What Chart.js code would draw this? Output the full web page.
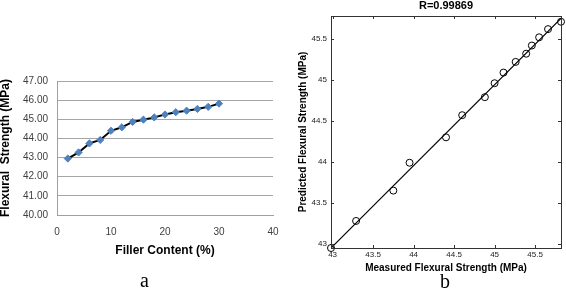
<!DOCTYPE html>
<html>
<head>
<meta charset="utf-8">
<script src="https://cdn.jsdelivr.net/npm/chart.js@4.4.1/dist/chart.umd.min.js"></script>
<style>
  body { margin: 0; background: #fff; }
  #wrap { position: relative; width: 566px; height: 291px; overflow: hidden; }
  canvas { position: absolute; top: 0; }
  #chartA { left: 0; }
  #chartB { left: 296px; }
  .cap { position: absolute; font-family: "Liberation Serif", "DejaVu Serif", serif; font-size: 20px; color: #000; line-height: 20px; }
</style>
</head>
<body>
<div id="wrap">
  <canvas id="chartA" width="290" height="291"></canvas>
  <canvas id="chartB" width="270" height="291"></canvas>
  <div class="cap" style="left:140px; top:270px;">a</div>
  <div class="cap" style="left:440px; top:271px;">b</div>
</div>
<script>
// datos del panel a: contenido de relleno vs resistencia
const fillerContent = [2, 4, 6, 8, 10, 12, 14, 16, 18, 20, 22, 24, 26, 28, 30];
const flexuralStrength = [42.95, 43.27, 43.74, 43.92, 44.40, 44.58, 44.86, 44.98, 45.10, 45.25, 45.37, 45.45, 45.54, 45.65, 45.82];

// datos del panel b: medido vs predicho
const measured = [42.98, 43.29, 43.75, 43.95, 44.40, 44.60, 44.88, 45.00, 45.11, 45.26, 45.39, 45.46, 45.55, 45.66, 45.82];
const predicted = [42.95, 43.28, 43.65, 43.99, 44.30, 44.57, 44.79, 44.96, 45.09, 45.22, 45.32, 45.42, 45.52, 45.62, 45.71];
const fitX = [42.97, 45.82];
const fitY = [42.94, 45.75];
const bTicks = [43, 43.5, 44, 44.5, 45, 45.5];
const rTitle = "R=0.99869";

const sans = '"Liberation Sans", Arial, sans-serif';

// ---------- panel a ----------
new Chart(document.getElementById("chartA"), {
  type: "line",
  data: {
    datasets: [{
      data: fillerContent.map((x, i) => ({ x, y: flexuralStrength[i] })),
      borderColor: "#000",
      borderWidth: 2,
      pointStyle: "rectRot",
      pointRadius: 3.6,
      pointBackgroundColor: "#4f81bd",
      pointBorderColor: "#4f81bd",
      pointBorderWidth: 1,
      tension: 0
    }]
  },
  options: {
    responsive: false,
    animation: false,
    devicePixelRatio: 1,
    layout: { padding: { top: 81, right: 17, left: 0, bottom: 0 } },
    plugins: { legend: { display: false }, tooltip: { enabled: false } },
    scales: {
      x: {
        type: "linear", min: 0, max: 40,
        ticks: { stepSize: 10, padding: 11, color: "#404040", font: { family: sans, size: 10 } },
        grid: { display: false, drawTicks: false },
        border: { display: true, color: "#a0a0a0", width: 1 },
        title: { display: true, text: "Filler Content (%)", color: "#000",
                 font: { family: sans, size: 12, weight: "bold", lineHeight: 1.2 },
                 padding: { top: 0, bottom: 33 } },
        afterFit: s => { s.height = 76; }
      },
      y: {
        min: 40, max: 47,
        ticks: { stepSize: 1, padding: 9, color: "#404040", font: { family: sans, size: 10 },
                 callback: v => v.toFixed(2) },
        grid: { color: "#a6a6a6", lineWidth: 1, drawTicks: false },
        border: { display: true, color: "#a0a0a0", width: 1 },
        title: { display: true, text: "Flexural  Strength (MPa)", color: "#000",
                 font: { family: sans, size: 12, weight: "bold", lineHeight: 1 },
                 padding: 0 },
        afterFit: s => { s.width = 57; }
      }
    }
  }
});

// marcas interiores y caja estilo MATLAB
const boxTicks = {
  id: "boxTicks",
  afterDraw(chart) {
    const { ctx, chartArea: a, scales } = chart;
    ctx.save();
    ctx.strokeStyle = "#333";
    ctx.lineWidth = 1;
    ctx.strokeRect(Math.round(a.left) + 0.5, Math.round(a.top) + 0.5,
                   Math.round(a.right - a.left), Math.round(a.bottom - a.top));
    const len = 3;
    ctx.beginPath();
    bTicks.forEach(v => {
      const px = Math.round(scales.x.getPixelForValue(v)) + 0.5;
      ctx.moveTo(px, a.bottom); ctx.lineTo(px, a.bottom - len);
      ctx.moveTo(px, a.top); ctx.lineTo(px, a.top + len);
      const py = Math.round(scales.y.getPixelForValue(v)) + 0.5;
      ctx.moveTo(a.left, py); ctx.lineTo(a.left + len, py);
      ctx.moveTo(a.right, py); ctx.lineTo(a.right - len, py);
    });
    ctx.stroke();
    ctx.restore();
  }
};

// ---------- panel b ----------
new Chart(document.getElementById("chartB"), {
  type: "scatter",
  data: {
    datasets: [
      {
        data: measured.map((x, i) => ({ x, y: predicted[i] })),
        showLine: false,
        clip: 6,
        pointStyle: "circle",
        pointRadius: 3.5,
        pointBorderColor: "#000",
        pointBackgroundColor: "rgba(0,0,0,0)",
        pointBorderWidth: 1
      },
      {
        data: fitX.map((x, i) => ({ x, y: fitY[i] })),
        showLine: true,
        borderColor: "#000",
        borderWidth: 1.2,
        pointRadius: 0
      }
    ]
  },
  options: {
    responsive: false,
    animation: false,
    devicePixelRatio: 1,
    layout: { padding: { top: 0, right: 4, left: 0, bottom: 0 } },
    plugins: {
      legend: { display: false },
      tooltip: { enabled: false },
      title: { display: true, text: rTitle, fullSize: false, color: "#000",
               font: { family: sans, size: 11, weight: "bold", lineHeight: 1 },
               padding: { top: 0, bottom: 5 } }
    },
    scales: {
      x: {
        type: "linear", min: 42.98, max: 45.82,
        afterBuildTicks: s => { s.ticks = bTicks.map(value => ({ value })); },
        ticks: { padding: 2, color: "#222", font: { family: sans, size: 8 }, callback: v => String(v) },
        grid: { display: false, drawTicks: false },
        border: { display: false },
        title: { display: true, text: "Measured Flexural Strength (MPa)", color: "#000",
                 font: { family: sans, size: 10, weight: "bold", lineHeight: 1.2 },
                 padding: { top: 0, bottom: 17 } },
        afterFit: s => { s.height = 43; }
      },
      y: {
        type: "linear", min: 42.95, max: 45.78,
        afterBuildTicks: s => { s.ticks = bTicks.map(value => ({ value })); },
        ticks: { padding: 4, color: "#222", font: { family: sans, size: 8 }, callback: v => String(v) },
        grid: { display: false, drawTicks: false },
        border: { display: false },
        title: { display: true, text: "Predicted Flexural Strength (MPa)", color: "#000",
                 font: { family: sans, size: 10, weight: "bold", lineHeight: 1 },
                 padding: { top: 2, bottom: 0 } },
        afterFit: s => { s.width = 35; }
      }
    }
  },
  plugins: [boxTicks]
});
</script>
</body>
</html>
